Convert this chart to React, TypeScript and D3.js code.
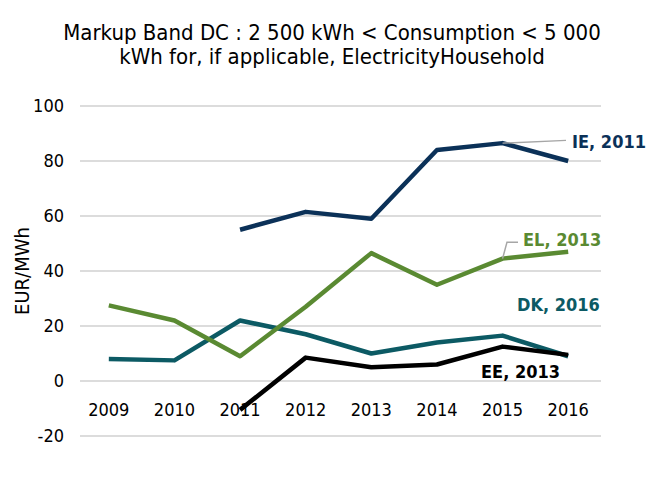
import React from 'react';
import * as d3 from 'd3';

const years = ['2009', '2010', '2011', '2012', '2013', '2014', '2015', '2016'];
const yTicks = [-20, 0, 20, 40, 60, 80, 100];

const ieValues = [null, null, 55, 61.5, 59, 84, 86.5, 80];
const elValues = [27.5, 22, 9, 27, 46.5, 35, 44.5, 47];
const dkValues = [8, 7.5, 22, 17, 10, 14, 16.5, 9];
const eeValues = [null, null, -10.5, 8.5, 5, 6, 12.5, 9.5];

const seriesList = [
    { name: 'DK', values: dkValues, color: '#0c5a64' },
    { name: 'EL', values: elValues, color: '#5a8a32' },
    { name: 'IE', values: ieValues, color: '#0b3158' },
    { name: 'EE', values: eeValues, color: '#000000' }
];

const W = 664;
const H = 490;
const font = '"DejaVu Sans Condensed", "DejaVu Sans", sans-serif';

const App: React.FC = () => {
    const x = d3.scaleBand<string>().domain(years).range([76, 601]);
    const y = d3.scaleLinear().domain([-20, 100]).range([436, 106]);
    const cx = (yr: string) => (x(yr) || 0) + x.bandwidth() / 2;

    const line = d3.line<number | null>()
        .defined(d => d !== null)
        .x((_, i) => cx(years[i]))
        .y(d => y(d as number));

    // label anchors
    const ie15 = { x: cx('2015'), y: y(86.5) };
    const el15 = { x: cx('2015'), y: y(44.5) };

    return (
        <div style={{ position: 'absolute', left: 0, top: 0 }}>
            <svg width={W} height={H} style={{ display: 'block', background: '#fff' }}>
                <text x={332} y={40} textAnchor="middle" fontFamily={font} fontSize={22} fill="#000">
                    Markup Band DC : 2 500 kWh &lt; Consumption &lt; 5 000
                </text>
                <text x={332} y={64} textAnchor="middle" fontFamily={font} fontSize={22} fill="#000">
                    kWh for, if applicable, ElectricityHousehold
                </text>

                {yTicks.map(t => (
                    <g key={t}>
                        <line x1={80} x2={601} y1={y(t)} y2={y(t)} stroke="#d0d0d0" strokeWidth={1.5} />
                        <text x={64} y={y(t) + 6} textAnchor="end" fontFamily={font} fontSize={18} fill="#000">
                            {t}
                        </text>
                    </g>
                ))}

                {years.map(yr => (
                    <text key={yr} x={cx(yr)} y={416} textAnchor="middle" fontFamily={font} fontSize={18} fill="#000">
                        {yr}
                    </text>
                ))}

                <text transform={`translate(29,271) rotate(-90)`} textAnchor="middle" fontFamily={font} fontSize={20} fill="#000">
                    EUR/MWh
                </text>

                {seriesList.map(s => (
                    <path key={s.name} d={line(s.values) || ''} fill="none" stroke={s.color} strokeWidth={4.5} strokeLinejoin="round" />
                ))}

                <polyline points={`${ie15.x},${ie15.y} ${566},${y(87.5)}`} fill="none" stroke="#a6a6a6" strokeWidth={1.5} />
                <text x={572} y={148} fontFamily={font} fontSize={18} fontWeight="bold" fill="#0b3158">IE, 2011</text>

                <polyline points={`${el15.x},${el15.y} ${507},${y(50.5)} ${518},${y(50.5)}`} fill="none" stroke="#a6a6a6" strokeWidth={1.5} />
                <text x={523} y={246} fontFamily={font} fontSize={18} fontWeight="bold" fill="#5a8a32">EL, 2013</text>

                <text x={517} y={311} fontFamily={font} fontSize={18} fontWeight="bold" fill="#0c5a64">DK, 2016</text>
                <text x={481} y={378} fontFamily={font} fontSize={18} fontWeight="bold" fill="#000">EE, 2013</text>
            </svg>
        </div>
    );
};

export default App;
